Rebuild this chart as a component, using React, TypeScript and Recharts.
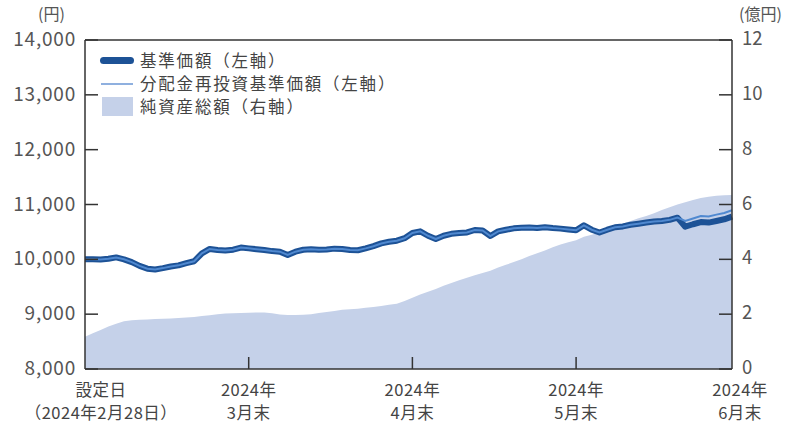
import React from "react";
import {
  Area,
  ComposedChart,
  Legend,
  Line,
  ReferenceLine,
  XAxis,
  YAxis,
} from "recharts";

// business-day index from 設定日 (2024/2/28)
const nav = [
  10000, 10000, 9995, 10010, 10035, 10000, 9950, 9880, 9830, 9815,
  9840, 9870, 9890, 9930, 9965, 10110, 10190, 10170, 10160, 10175,
  10215, 10200, 10185, 10170, 10150, 10140, 10080, 10140, 10175, 10185,
  10175, 10180, 10195, 10190, 10170, 10165, 10200, 10240, 10290, 10320,
  10340, 10385, 10480, 10510, 10430, 10370, 10430, 10465, 10480, 10490,
  10535, 10525, 10425, 10510, 10540, 10565, 10575, 10580, 10570, 10585,
  10570, 10560, 10545, 10530, 10620, 10540, 10490, 10540, 10585, 10600,
  10630, 10650, 10670, 10690, 10700, 10720, 10760, 10595, 10640, 10680,
  10670, 10700, 10730, 10780,
];

// 分配金再投資: same as nav until the distribution, then above it
const navReinvest = [
  ...nav.slice(0, 77),
  10700, 10745, 10790, 10780, 10815, 10845, 10895,
];

// 純資産総額 (億円)
const assets = [
  1.18, 1.3, 1.42, 1.55, 1.65, 1.74, 1.78, 1.8, 1.81, 1.82,
  1.83, 1.84, 1.86, 1.88, 1.9, 1.93, 1.96, 2.0, 2.02, 2.03,
  2.04, 2.05, 2.06, 2.06, 2.03, 1.99, 1.97, 1.97, 1.98, 2.0,
  2.04, 2.08, 2.12, 2.16, 2.18, 2.2, 2.23, 2.26, 2.3, 2.34,
  2.38, 2.48, 2.6, 2.72, 2.82, 2.92, 3.04, 3.14, 3.24, 3.33,
  3.42, 3.5, 3.58, 3.7, 3.8, 3.9, 4.0, 4.12, 4.22, 4.32,
  4.44, 4.54, 4.62, 4.7, 4.82, 4.9, 4.98, 5.1, 5.2, 5.3,
  5.4, 5.5, 5.58, 5.68, 5.8, 5.9, 6.0, 6.08, 6.16, 6.24,
  6.28, 6.32, 6.34, 6.35,
];

const xTicks = [0, 21, 42, 63, 83];
const xLabels = [
  ["設定日", "（2024年2月28日）"],
  ["2024年", "3月末"],
  ["2024年", "4月末"],
  ["2024年", "5月末"],
  ["2024年", "6月末"],
];
const leftTicks = [8000, 9000, 10000, 11000, 12000, 13000, 14000];
const rightTicks = [0, 2, 4, 6, 8, 10, 12];

const data = nav.map((v, i) => ({
  i,
  nav: v,
  reinvest: navReinvest[i],
  assets: assets[i],
}));

const FONT = "'Noto Sans CJK JP', 'Noto Sans', sans-serif";
const AXIS = "#333";
const NAV_COLOR = "#1d5296";
const REINVEST_COLOR = "#5089d0";
const AREA_COLOR = "#c5d1e9";

const LeftTick = (p: any) => {
  const { x, y, payload } = p;
  return (
    <g>
      <line x1={x} x2={x + 13} y1={y} y2={y} stroke={AXIS} strokeWidth={1.5} />
      <text x={x - 9} y={y} dy={6} textAnchor="end" fontSize={19} letterSpacing={0.8} fill="#555" fontFamily={FONT}>
        {payload.value.toLocaleString("en-US")}
      </text>
    </g>
  );
};

const RightTick = (p: any) => {
  const { x, y, payload } = p;
  return (
    <g>
      <line x1={x - 13} x2={x} y1={y} y2={y} stroke={AXIS} strokeWidth={1.5} />
      <text x={x + 10} y={y} dy={5} textAnchor="start" fontSize={18.5} fill="#555" fontFamily={FONT}>
        {payload.value}
      </text>
    </g>
  );
};

const BottomTick = (p: any) => {
  const { x, y, payload } = p;
  const k = xTicks.indexOf(payload.value);
  const lines = xLabels[k] || ["", ""];
  const dx = k === 0 ? 16 : k === xTicks.length - 1 ? 8 : 0;
  const inner = k > 0 && k < xTicks.length - 1;
  return (
    <g>
      {inner && <line x1={x} x2={x} y1={y} y2={y - 12} stroke={AXIS} strokeWidth={1.5} />}
      <text x={x + dx} y={y + 27} textAnchor="middle" fontSize={16.5} letterSpacing={0.5} fill="#444" fontFamily={FONT}>
        {lines[0]}
      </text>
      <text x={x + dx} y={y + 50} textAnchor="middle" fontSize={16.5} letterSpacing={0.5} fill="#444" fontFamily={FONT}>
        {lines[1]}
      </text>
    </g>
  );
};

const LegendBox = () => {
  const row: React.CSSProperties = {
    display: "flex",
    alignItems: "center",
    height: 23,
    fontSize: 16.5,
    lineHeight: "19px",
    letterSpacing: 1.8,
    color: "#444",
    fontFamily: FONT,
    whiteSpace: "nowrap",
  };
  const icon: React.CSSProperties = { width: 34, marginRight: 6, display: "flex", alignItems: "center", justifyContent: "center" };
  return (
    <div>
      <div style={row}>
        <span style={icon}>
          <span style={{ width: 34, height: 7, borderRadius: 4, background: NAV_COLOR }} />
        </span>
        <span>基準価額（左軸）</span>
      </div>
      <div style={row}>
        <span style={icon}>
          <span style={{ width: 32, height: 2, background: "#8fb0df" }} />
        </span>
        <span>分配金再投資基準価額（左軸）</span>
      </div>
      <div style={row}>
        <span style={icon}>
          <span style={{ width: 31, height: 19, background: AREA_COLOR }} />
        </span>
        <span>純資産総額（右軸）</span>
      </div>
    </div>
  );
};

const unit: React.CSSProperties = {
  position: "absolute",
  top: 4,
  fontSize: 16,
  lineHeight: "18px",
  color: "#555",
  fontFamily: FONT,
};

export default function App() {
  return (
    <div style={{ position: "absolute", left: 0, top: 0, width: 793, height: 426, background: "#fff" }}>
      <div style={{ ...unit, left: 38 }}>(円)</div>
      <div style={{ ...unit, left: 739 }}>(億円)</div>
      <ComposedChart width={793} height={426} data={data} margin={{ top: 40, right: 0, bottom: 0, left: 0 }}>
        <XAxis
          dataKey="i"
          type="number"
          domain={[0, 83]}
          ticks={xTicks}
          interval={0}
          height={57}
          tickSize={0}
          tickMargin={0}
          tickLine={false}
          axisLine={{ stroke: AXIS, strokeWidth: 1.5 }}
          tick={<BottomTick />}
        />
        <YAxis
          yAxisId="left"
          orientation="left"
          domain={[8000, 14000]}
          ticks={leftTicks}
          interval={0}
          width={85}
          tickSize={0}
          tickMargin={0}
          tickLine={false}
          axisLine={{ stroke: AXIS, strokeWidth: 1.5 }}
          tick={<LeftTick />}
        />
        <YAxis
          yAxisId="right"
          orientation="right"
          domain={[0, 12]}
          ticks={rightTicks}
          interval={0}
          width={61}
          tickSize={0}
          tickMargin={0}
          tickLine={false}
          axisLine={{ stroke: AXIS, strokeWidth: 1.5 }}
          tick={<RightTick />}
        />
        <Area
          yAxisId="right"
          dataKey="assets"
          type="linear"
          stroke="none"
          fill={AREA_COLOR}
          fillOpacity={1}
          isAnimationActive={false}
        />
        <Line
          yAxisId="left"
          dataKey="nav"
          type="linear"
          stroke={NAV_COLOR}
          strokeWidth={6}
          strokeLinejoin="round"
          dot={false}
          isAnimationActive={false}
        />
        <Line
          yAxisId="left"
          dataKey="reinvest"
          type="linear"
          stroke={REINVEST_COLOR}
          strokeWidth={2}
          dot={false}
          isAnimationActive={false}
        />
        <ReferenceLine yAxisId="left" y={14000} stroke={AXIS} strokeWidth={1.5} />
        <Legend
          layout="vertical"
          align="center"
          verticalAlign="middle"
          wrapperStyle={{ left: 100, top: 49, width: 360 }}
          content={<LegendBox />}
        />
      </ComposedChart>
    </div>
  );
}
